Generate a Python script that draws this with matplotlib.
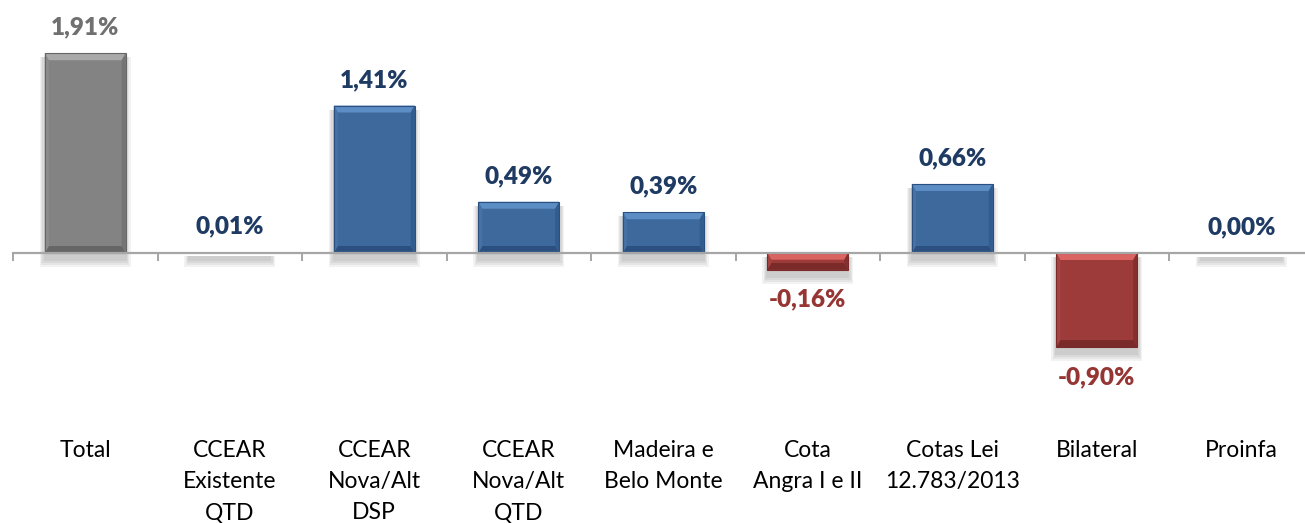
import matplotlib
matplotlib.use("Agg")
import matplotlib.pyplot as plt
from matplotlib.patches import Polygon, Rectangle
import numpy as np

categories = ["Total", "CCEAR\nExistente\nQTD", "CCEAR\nNova/Alt\nDSP", "CCEAR\nNova/Alt\nQTD",
              "Madeira e\nBelo Monte", "Cota\nAngra I e II", "Cotas Lei\n12.783/2013", "Bilateral", "Proinfa"]
values = [1.91, 0.01, 1.41, 0.49, 0.39, -0.16, 0.66, -0.90, 0.00]
value_labels = ["1,91%", "0,01%", "1,41%", "0,49%", "0,39%", "-0,16%", "0,66%", "-0,90%", "0,00%"]
kinds = ["gray", "blue", "blue", "blue", "blue", "red", "blue", "red", "blue"]

palette = {
    "gray": dict(main="#838383", top="#a9a9a9", bottom="#666666", left="#8c8c8c", right="#747474", text="#707070"),
    "blue": dict(main="#3d699d", top="#5d8dc5", bottom="#2b5080", left="#4672a7", right="#325c8e", text="#1f3b63"),
    "red": dict(main="#9d3b3a", top="#da6462", bottom="#792a29", left="#a74341", right="#862f2e", text="#963634"),
}

W, H, DPI = 1305, 523, 100
fig = plt.figure(figsize=(W / DPI, H / DPI), dpi=DPI)
step = 144.5
x_left = 13
zero_px = 253
px_per_unit = 104.6
ax = fig.add_axes([x_left / W, 0, 9 * step / W, 1])
ax.set_xlim(-0.5, 8.5)
ax.set_ylim(-(H - zero_px) / px_per_unit, zero_px / px_per_unit)

for s in ["left", "right", "top"]:
    ax.spines[s].set_visible(False)
ax.spines["bottom"].set_position(("data", 0))
ax.spines["bottom"].set_color("#a6a6a6")
ax.spines["bottom"].set_linewidth(1.6)
ax.spines["bottom"].set_zorder(5.5)
ax.set_xticks(np.arange(-0.5, 9, 1))
ax.set_xticklabels([])
ax.tick_params(axis="x", direction="out", length=5.5, width=1.4, color="#a6a6a6")
ax.set_yticks([])

xs = np.arange(len(values))
bar_w = 0.56
bars = ax.bar(xs, values, width=bar_w, color=[palette[k]["main"] for k in kinds], zorder=3,
              edgecolor="none")

px_x = 1.0 / step          # data units per pixel in x
px_y = 1.0 / px_per_unit   # data units per pixel in y

for b, k in zip(bars, kinds):
    c = palette[k]
    x0, x1 = b.get_x(), b.get_x() + b.get_width()
    y_a, y_b = b.get_y(), b.get_y() + b.get_height()
    y0, y1 = min(y_a, y_b), max(y_a, y_b)
    # soft shadow
    for i, a in enumerate([0.05, 0.05, 0.05, 0.05]):
        e = (i + 1) * 2.0
        ax.add_patch(Rectangle((x0 - e * px_x * 0.6, y0 - (6 + e) * px_y),
                               (x1 - x0) + 2 * e * px_x * 0.6, (y1 - y0) + (2 + e) * px_y,
                               facecolor="#000000", alpha=a, edgecolor="none", zorder=2))
    hpx = (y1 - y0) / px_y
    if hpx < 3:
        b.set_visible(False)
        continue
    t = min(7, hpx / 2.5) * px_y
    sd = 4 * px_x
    ax.add_patch(Polygon([(x0, y1), (x1, y1), (x1 - sd, y1 - t), (x0 + sd, y1 - t)],
                         closed=True, facecolor=c["top"], edgecolor="none", zorder=4))
    ax.add_patch(Polygon([(x0, y0), (x1, y0), (x1 - sd, y0 + t), (x0 + sd, y0 + t)],
                         closed=True, facecolor=c["bottom"], edgecolor="none", zorder=4))
    ax.add_patch(Polygon([(x0, y0), (x0, y1), (x0 + sd, y1 - t), (x0 + sd, y0 + t)],
                         closed=True, facecolor=c["left"], edgecolor="none", zorder=4))
    ax.add_patch(Polygon([(x1, y0), (x1, y1), (x1 - sd, y1 - t), (x1 - sd, y0 + t)],
                         closed=True, facecolor=c["right"], edgecolor="none", zorder=4))
    ax.add_patch(Rectangle((x0, y0), x1 - x0, y1 - y0, facecolor="none",
                           edgecolor=c["bottom"], linewidth=0.8, zorder=5))

font = "Lato"
for x, v, lab, k in zip(xs, values, value_labels, kinds):
    if v >= 0:
        ax.annotate(lab, (x, v), xytext=(0, 10.5), textcoords="offset points", ha="center", va="bottom",
                    fontsize=17.5, fontweight="heavy", color=palette[k]["text"], family=font, zorder=6)
    else:
        ax.annotate(lab, (x, v), xytext=(0, -13.5), textcoords="offset points", ha="center", va="top",
                    fontsize=17.5, fontweight="heavy", color=palette[k]["text"], family=font, zorder=6)

trans = ax.get_xaxis_transform()
for x, cat in zip(xs, categories):
    ax.text(x, (H - 440) / H, cat, transform=trans, ha="center", va="top", fontsize=16.5,
            color="#000000", family=font, linespacing=1.6)

fig.savefig("out.png", dpi=DPI)
